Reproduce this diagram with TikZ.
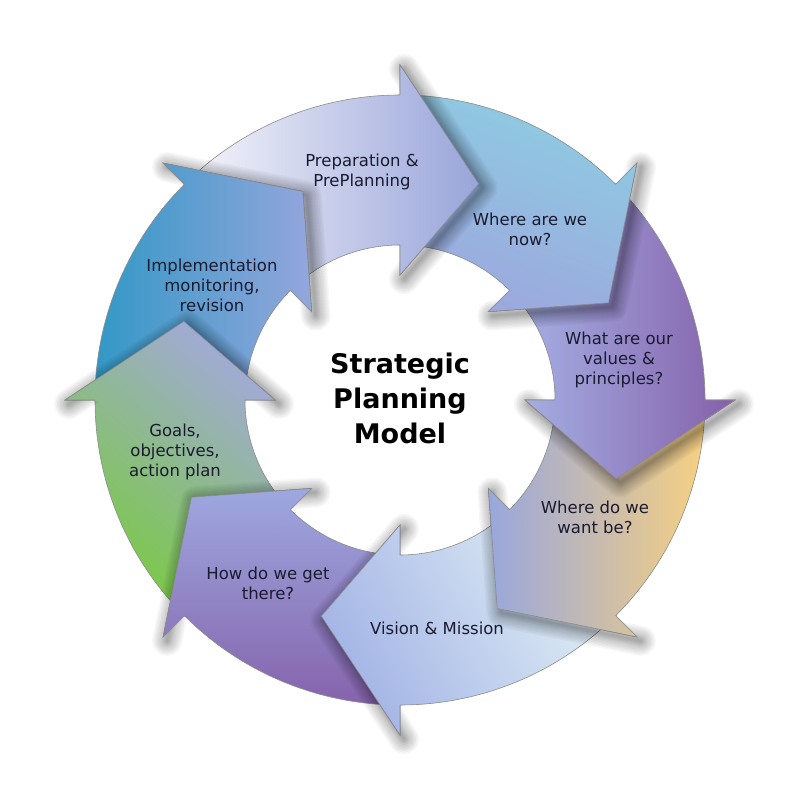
\documentclass[tikz,border=0pt]{standalone}
\usepackage{fontspec}
\setmainfont{DejaVu Sans}
\definecolor{prepL}{HTML}{F6F6FB}\definecolor{prepR}{HTML}{99A5DA}
\definecolor{nowT}{HTML}{8DCDE2}\definecolor{nowB}{HTML}{9DA7DE}
\definecolor{valR}{HTML}{8560AA}\definecolor{valL}{HTML}{A6B3E6}
\definecolor{wantL}{HTML}{98A7DC}\definecolor{wantR}{HTML}{F7D081}
\definecolor{visL}{HTML}{A3B4E6}\definecolor{visR}{HTML}{E2F0F5}
\definecolor{howT}{HTML}{9EA8E0}\definecolor{howB}{HTML}{8563AC}
\definecolor{goaT}{HTML}{A3A9DC}\definecolor{goaB}{HTML}{78CB3E}
\definecolor{impL}{HTML}{3298C6}\definecolor{impR}{HTML}{94A6DC}
\definecolor{txt}{HTML}{1B1B30}
\tikzset{
  rim/.style={draw=black!45, line width=0.6pt},
  lbl/.style={align=center, font=\fontsize{16.5}{20}\selectfont, text=txt},
  prep/.style={left color=prepL, right color=prepR},
  now/.style={top color=nowT, bottom color=nowB, shading angle=-20},
  vals/.style={left color=valL, right color=valR},
  want/.style={left color=wantL, right color=wantR},
  vis/.style={top color=visR, bottom color=visL, shading angle=-60},
  how/.style={top color=howT, bottom color=howB},
  goa/.style={top color=goaT, bottom color=goaB, shading angle=-40},
  imp/.style={left color=impL, right color=impR},
}
\newcommand{\ArrBody}[2]{%
  \path[#2] (#1+45:305pt) arc[start angle=#1+45, end angle=#1, radius=305pt]
    -- (#1:335pt) -- (#1-20:230pt) -- (#1:125pt) -- (#1:155pt)
    arc[start angle=#1, end angle=#1+45, radius=155pt] -- cycle;}
\newcommand{\ArrHead}[2]{%
  \begin{scope}[shift={(4pt,-4pt)}]
    \foreach \w in {30,27,24,21,18,15,12,10,8,6,4,2}
      \draw[line width=\w pt, black, opacity=0.032, line join=round, line cap=round]
        (#1:335pt) -- (#1-20:230pt) -- (#1:125pt);
  \end{scope}
  \begin{scope}
    \clip (#1+0.3:345pt) -- (#1-20:230pt) -- (#1+0.3:115pt) -- cycle;
    \ArrBody{#1}{#2}
    \ArrBody{#1}{rim}
  \end{scope}}
\begin{document}
\begin{tikzpicture}[x=1pt,y=-1pt]
\fill[white] (0,0) rectangle (800,799);
\useasboundingbox (0,0) rectangle (800,799);
\begin{scope}[shift={(400,400)}]
  % bodies
  \ArrBody{90}{prep}   \ArrBody{90}{rim}
  \ArrBody{45}{now}    \ArrBody{45}{rim}
  \ArrBody{0}{vals}    \ArrBody{0}{rim}
  \ArrBody{-45}{want}  \ArrBody{-45}{rim}
  \ArrBody{-90}{vis}   \ArrBody{-90}{rim}
  \ArrBody{-135}{how}  \ArrBody{-135}{rim}
  \ArrBody{180}{goa}   \ArrBody{180}{rim}
  \ArrBody{135}{imp}   \ArrBody{135}{rim}
  % heads on top
  \ArrHead{90}{prep}
  \ArrHead{45}{now}
  \ArrHead{0}{vals}
  \ArrHead{-45}{want}
  \ArrHead{-90}{vis}
  \ArrHead{-135}{how}
  \ArrHead{180}{goa}
  \ArrHead{135}{imp}
\end{scope}
\node[lbl] (prepT) at (362,172) {Preparation \&\\PrePlanning};
\node[lbl] (nowT) at (530,229) {Where are we\\now?};
\node[lbl] (valT) at (619,360) {What are our\\values \&\\principles?};
\node[lbl] (wantT) at (595,517) {Where do we\\want be?};
\node[lbl] (visT) at (437,628) {Vision \& Mission};
\node[lbl] (howT) at (268,583) {How do we get\\there?};
\node[lbl] (goaT) at (175,452) {Goals,\\objectives,\\action plan};
\node[lbl] (impT) at (212,285) {Implementation\\monitoring,\\revision};
\node[align=center, font=\fontsize{27}{35}\selectfont\bfseries] (title) at (400,398) {Strategic\\Planning\\Model};
\end{tikzpicture}
\end{document}
